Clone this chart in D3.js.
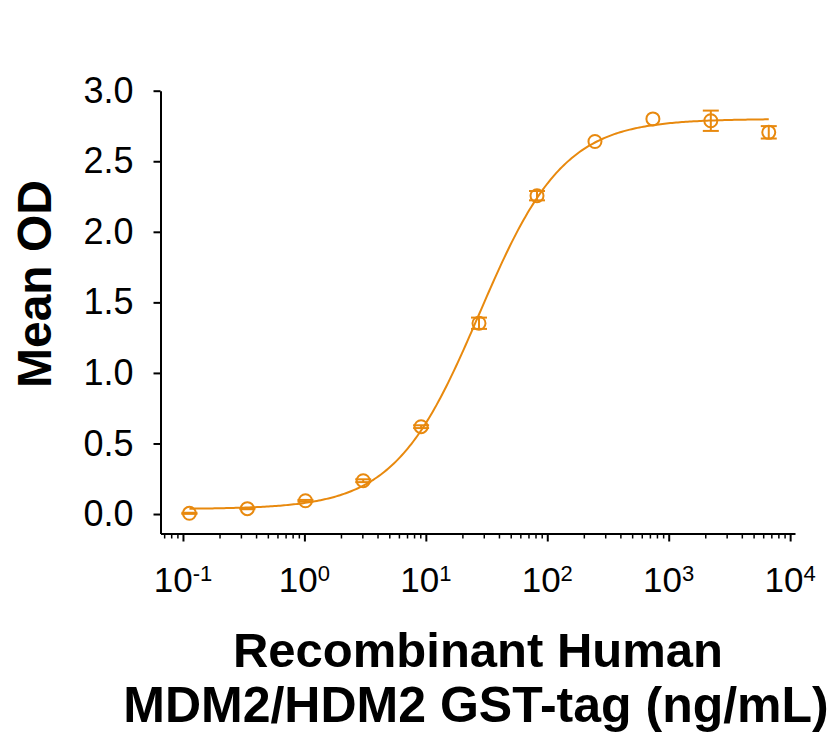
<!DOCTYPE html>
<html>
  <head>
    <title>MDM2 binding curve</title>
    <script src="https://d3js.org/d3.v7.min.js"></script>
    <style>
      body { margin: 0; background: #fff; }
      text { font-family: "Liberation Sans", Arial, sans-serif; }
    </style>
  </head>
  <body>
    <div id="chart"></div>
    <script>
      // concentrations (ng/mL), 3-fold serial dilution
      const conc = [0.113, 0.339, 1.02, 3.05, 9.14, 27.4, 82.3, 247, 741, 2222, 6667];
      const meanOD = [0.005, 0.038, 0.094, 0.236, 0.619, 1.352, 2.256, 2.64, 2.80, 2.787, 2.705];
      const sdOD = [0.004, 0.004, 0.006, 0.01, 0.01, 0.04, 0.033, 0, 0, 0.072, 0.044];
      const yTicks = [0, 0.5, 1.0, 1.5, 2.0, 2.5, 3.0];
      const xDecades = [-1, 0, 1, 2, 3, 4];

      // 4PL fit parameters
      const fitBottom = 0.035, fitTop = 2.80, fitEC50 = 27.5, fitHill = 1.25;

      const color = '#e8890e';
      const width = 836, height = 738;

      const svg = d3.select('#chart')
        .append('svg')
        .attr('width', width)
        .attr('height', height);

      const x = d3.scaleLog()
        .domain([Math.pow(10, -1.185), Math.pow(10, 4.04)])
        .range([160.5, 795]);

      const y = d3.scaleLinear()
        .domain([-0.138, 3.0])
        .range([533.5, 90.7]);

      // y axis
      const yAxis = svg.append('g')
        .attr('transform', 'translate(160.5,0)')
        .call(d3.axisLeft(y).tickValues(yTicks).tickFormat(d3.format('.1f'))
          .tickSize(7).tickPadding(20).tickSizeOuter(0));
      yAxis.select('.domain').attr('stroke-width', 2);
      yAxis.selectAll('line').attr('stroke-width', 2);
      yAxis.selectAll('text').attr('font-size', 36).attr('fill', '#000');

      // x axis: minor ticks
      const minor = [0.07, 0.08, 0.09];
      for (let e = -1; e < 4; e++) {
        for (let m = 2; m <= 9; m++) minor.push(m * Math.pow(10, e));
      }
      const xAxisMinor = svg.append('g')
        .attr('transform', 'translate(0,533.5)')
        .call(d3.axisBottom(x).tickValues(minor).tickFormat('').tickSize(5).tickSizeOuter(0));
      xAxisMinor.select('.domain').attr('stroke-width', 2);
      xAxisMinor.selectAll('line').attr('stroke-width', 1.5);

      const majors = xDecades.map(e => Math.pow(10, e));
      const xAxisMajor = svg.append('g')
        .attr('transform', 'translate(0,533.5)')
        .call(d3.axisBottom(x).tickValues(majors).tickFormat('').tickSize(8).tickSizeOuter(0));
      xAxisMajor.select('.domain').remove();
      xAxisMajor.selectAll('line').attr('stroke-width', 2);

      // x tick labels with superscripts
      xDecades.forEach(e => {
        const t = svg.append('text')
          .attr('x', x(Math.pow(10, e)))
          .attr('y', 592)
          .attr('text-anchor', 'middle')
          .attr('fill', '#000');
        t.append('tspan').attr('font-size', 35).text('10');
        t.append('tspan').attr('font-size', 22).attr('dy', -11).text(String(e));
      });

      // fitted curve
      const fit = c => fitBottom + (fitTop - fitBottom) / (1 + Math.pow(fitEC50 / c, fitHill));
      const lo = Math.log10(conc[0]), hi = Math.log10(conc[conc.length - 1]);
      const curve = d3.range(0, 301).map(i => {
        const c = Math.pow(10, lo + (hi - lo) * i / 300);
        return [c, fit(c)];
      });
      svg.append('path')
        .datum(curve)
        .attr('fill', 'none')
        .attr('stroke', color)
        .attr('stroke-width', 2)
        .attr('d', d3.line().x(d => x(d[0])).y(d => y(d[1])));

      const pts = conc.map((c, i) => ({ c, m: meanOD[i], s: sdOD[i] }));

      // error bars
      const eb = svg.append('g').attr('stroke', color).attr('stroke-width', 2);
      pts.filter(d => d.s > 0).forEach(d => {
        const cx = x(d.c);
        eb.append('line').attr('x1', cx).attr('x2', cx).attr('y1', y(d.m - d.s)).attr('y2', y(d.m + d.s));
        [d.m - d.s, d.m + d.s].forEach(v => {
          eb.append('line').attr('x1', cx - 8).attr('x2', cx + 8).attr('y1', y(v)).attr('y2', y(v));
        });
      });

      // points
      svg.append('g').selectAll('circle')
        .data(pts)
        .enter()
        .append('circle')
        .attr('cx', d => x(d.c))
        .attr('cy', d => y(d.m))
        .attr('r', 6.5)
        .attr('fill', 'none')
        .attr('stroke', color)
        .attr('stroke-width', 2);

      // axis titles
      svg.append('text')
        .attr('transform', 'translate(51,284) rotate(-90)')
        .attr('text-anchor', 'middle')
        .attr('font-size', 48)
        .attr('font-weight', 'bold')
        .text('Mean OD');

      svg.append('text')
        .attr('x', 478).attr('y', 667)
        .attr('text-anchor', 'middle')
        .attr('font-size', 49)
        .attr('font-weight', 'bold')
        .text('Recombinant Human');
      svg.append('text')
        .attr('x', 476).attr('y', 722)
        .attr('text-anchor', 'middle')
        .attr('font-size', 50)
        .attr('font-weight', 'bold')
        .text('MDM2/HDM2 GST-tag (ng/mL)');
    </script>
  </body>
</html>
